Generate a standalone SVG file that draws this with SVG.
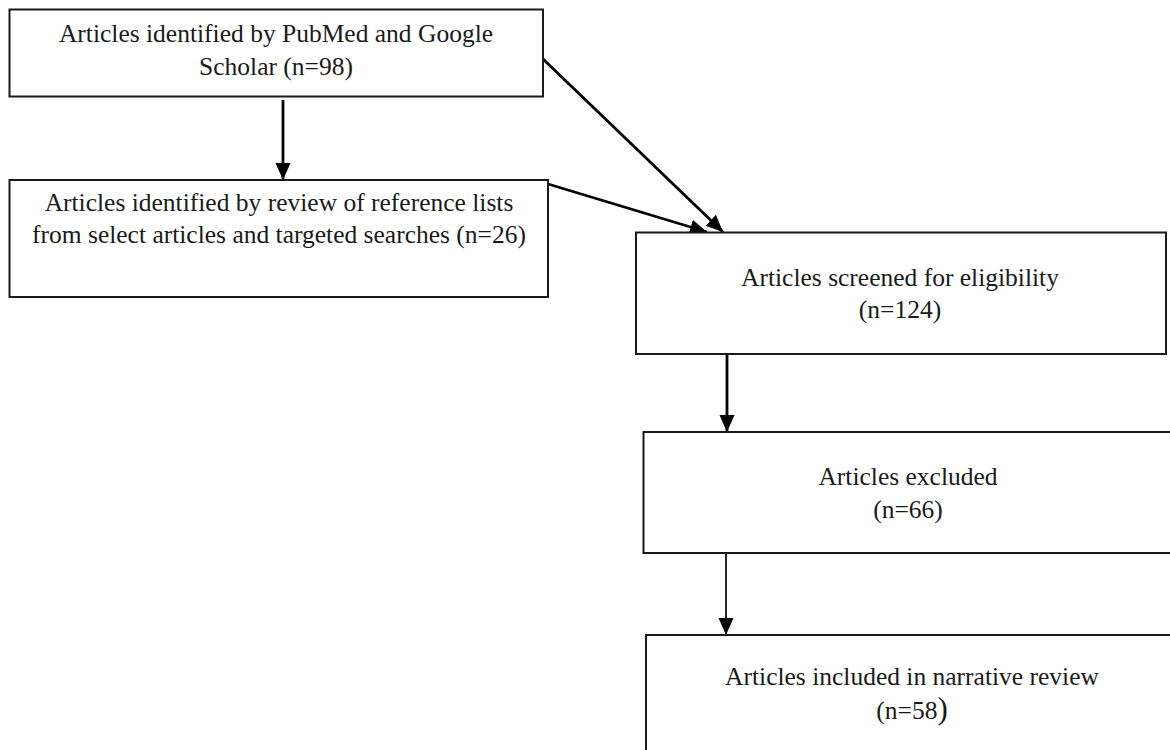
<svg xmlns="http://www.w3.org/2000/svg" width="1170" height="750" viewBox="0 0 1170 750">
<style>
.box{fill:#fff;stroke:#1a1a1a;stroke-width:2}
.t{font-family:"Liberation Serif","Times New Roman",serif;font-size:25.5px;fill:#1a1a1a;text-anchor:middle}
.c{fill:none;stroke:#000;stroke-width:2.8}
.thin{stroke-width:1.7}
</style>
<defs>
<marker id="ah" markerUnits="userSpaceOnUse" markerWidth="18" markerHeight="16" refX="17" refY="7.5" orient="auto">
<path d="M0,0 L17,7.5 L0,15 z" fill="#000"/>
</marker>
</defs>
<rect width="1170" height="750" fill="#fff"/>
<g id="connectors">
<line class="c" x1="283" y1="100" x2="283" y2="180" marker-end="url(#ah)"/>
<line class="c" x1="543" y1="59" x2="723" y2="232" marker-end="url(#ah)"/>
<line class="c" x1="548" y1="184" x2="707" y2="232" marker-end="url(#ah)"/>
<line class="c" x1="727" y1="354" x2="727" y2="432" marker-end="url(#ah)"/>
<line class="c thin" x1="726" y1="553" x2="726" y2="635" marker-end="url(#ah)"/>
</g>
<g id="n1">
<rect class="box" x="9.5" y="9.5" width="533.5" height="87"/>
<text class="t" x="276" y="41.5">Articles identified by PubMed and Google</text>
<text class="t" x="276" y="74.5">Scholar (n=98)</text>
</g>
<g id="n2">
<rect class="box" x="9.5" y="180" width="538.5" height="117"/>
<text class="t" x="279" y="211">Articles identified by review of reference lists</text>
<text class="t" x="279" y="243">from select articles and targeted searches (n=26)</text>
</g>
<g id="n3">
<rect class="box" x="636" y="232.5" width="530" height="121.5"/>
<text class="t" x="900" y="286">Articles screened for eligibility</text>
<text class="t" x="900" y="318">(n=124)</text>
</g>
<g id="n4">
<rect class="box" x="643.5" y="432" width="540" height="121"/>
<text class="t" x="908" y="485">Articles excluded</text>
<text class="t" x="908" y="518">(n=66)</text>
</g>
<g id="n5">
<rect class="box" x="646" y="635" width="540" height="130"/>
<text class="t" x="912" y="685">Articles included in narrative review</text>
<text class="t" x="912" y="719">(n=58<tspan font-size="31px">)</tspan></text>
</g>
</svg>
